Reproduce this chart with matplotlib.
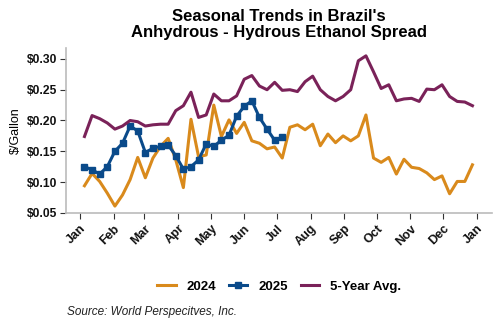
import matplotlib
matplotlib.use('Agg')
import matplotlib.pyplot as plt
import pandas as pd

plt.rcParams['font.family'] = ['Liberation Sans', 'DejaVu Sans']

# weekly observations, plotted on a generic calendar year
weeks = pd.date_range('2025-01-05', periods=52, freq='7D')

y2024 = [0.094, 0.114, 0.101, 0.082, 0.061, 0.079, 0.104, 0.140, 0.107, 0.139,
         0.158, 0.171, 0.136, 0.091, 0.202, 0.141, 0.144, 0.225, 0.174, 0.201,
         0.179, 0.197, 0.167, 0.163, 0.154, 0.157, 0.139, 0.189, 0.193, 0.185,
         0.194, 0.159, 0.178, 0.164, 0.175, 0.167, 0.175, 0.209, 0.139, 0.132,
         0.140, 0.113, 0.137, 0.124, 0.122, 0.115, 0.104, 0.110, 0.081, 0.101,
         0.101, 0.128]

y2025 = [0.125, 0.120, 0.113, 0.125, 0.150, 0.163, 0.191, 0.183, 0.148, 0.155,
         0.158, 0.160, 0.143, 0.121, 0.125, 0.136, 0.162, 0.158, 0.168, 0.176,
         0.207, 0.223, 0.232, 0.205, 0.186, 0.168, 0.173]

avg5 = [0.174, 0.208, 0.203, 0.196, 0.186, 0.191, 0.200, 0.198, 0.191, 0.193,
        0.194, 0.194, 0.216, 0.224, 0.246, 0.205, 0.209, 0.243, 0.232, 0.232,
        0.240, 0.267, 0.273, 0.256, 0.250, 0.262, 0.249, 0.250, 0.247, 0.263,
        0.272, 0.250, 0.239, 0.232, 0.239, 0.250, 0.297, 0.305, 0.279, 0.252,
        0.258, 0.232, 0.235, 0.236, 0.231, 0.251, 0.250, 0.258, 0.239, 0.231,
        0.230, 0.224]

months = ['Jan', 'Feb', 'Mar', 'Apr', 'May', 'Jun', 'Jul', 'Aug', 'Sep',
          'Oct', 'Nov', 'Dec', 'Jan']
yticks = [0.05, 0.10, 0.15, 0.20, 0.25, 0.30]

fig = plt.figure(figsize=(5, 3.3), dpi=100)
ax = fig.add_axes([0.132, 0.355, 0.852, 0.5])

ax.plot(weeks, y2024, color='#D98A1C', lw=2.2, label='2024')
ax.plot(weeks[:len(y2025)], y2025, color='#0A4A8A', lw=2.2, marker='s',
        markersize=5, label='2025')
ax.plot(weeks, avg5, color='#7A2259', lw=2.2, label='5-Year Avg.')

ax.set_ylim(0.05, 0.318)
ax.set_yticks(yticks)
ax.set_yticklabels(['$%.2f' % v for v in yticks], fontsize=8.7,
                   fontweight='bold')
ax.set_xlim(pd.Timestamp('2024-12-19'), pd.Timestamp('2026-01-15'))
ax.set_xticks(pd.date_range('2025-01-01', periods=13, freq='MS'))
ax.set_xticklabels(months, rotation=45, fontsize=9, fontweight='bold',
                   ha='right', rotation_mode='anchor')
ax.tick_params(length=4, color='#333333', labelcolor='#111111')
ax.tick_params(axis='x', pad=3)
ax.tick_params(axis='y', pad=2)

for s in ['top', 'right']:
    ax.spines[s].set_visible(False)
for s in ['left', 'bottom']:
    ax.spines[s].set_color('#BBBBBB')
    ax.spines[s].set_linewidth(1.2)

ax.set_ylabel('$/Gallon', fontsize=9, labelpad=4)
ax.set_title("Seasonal Trends in Brazil's\nAnhydrous - Hydrous Ethanol Spread",
             fontsize=12, fontweight='bold', pad=8, linespacing=1.05)

ax.legend(loc='upper center', bbox_to_anchor=(0.5, -0.34), ncol=3,
          frameon=False, prop={'weight': 'bold', 'size': 9.5},
          handlelength=1.4, columnspacing=1.0, handletextpad=0.8)

fig.text(0.134, 0.045, 'Source: World Perspecitves, Inc.', fontsize=8.5,
         style='italic', color='#222222')

fig.savefig('out.png', dpi=100)
